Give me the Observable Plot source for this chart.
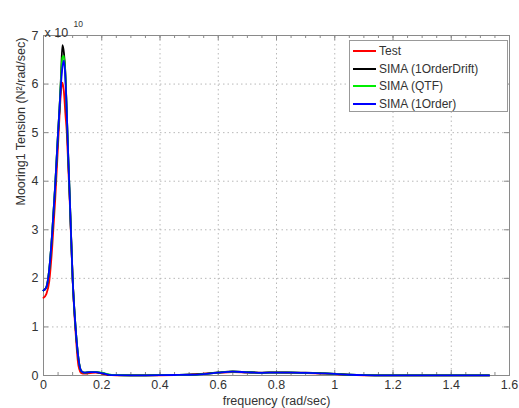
<!DOCTYPE html>
<html><head><meta charset="utf-8">
<script src="https://cdn.jsdelivr.net/npm/d3@7"></script>
<script src="https://cdn.jsdelivr.net/npm/@observablehq/plot@0.6"></script>
<style>
body{margin:0;background:#fff;font-family:"Liberation Sans",Arial,sans-serif;}
#wrap{position:relative;width:519px;height:408px;}
#legend{position:absolute;left:349px;top:40px;width:157px;height:70px;border:1px solid #999;background:#fff;font-size:12px;color:#333;}
.row{position:absolute;left:0;height:16px;display:flex;align-items:center;white-space:nowrap;}
.sw{width:23px;height:0;border-top:2px solid;margin-left:3px;margin-right:3px;}
</style></head><body><div id="wrap"></div>
<script>
// frequency (rad/sec)
const freq = [0, 0.01, 0.02, 0.03, 0.04, 0.05, 0.055, 0.06, 0.065, 0.07, 0.075, 0.08, 0.085, 0.09, 0.1, 0.11, 0.12, 0.13, 0.14, 0.16, 0.18, 0.2, 0.22, 0.25, 0.3, 0.35, 0.4, 0.45, 0.5, 0.55, 0.6, 0.65, 0.7, 0.75, 0.8, 0.85, 0.9, 0.95, 1.0, 1.05, 1.1, 1.2, 1.3, 1.4, 1.53];
// spectra, in units of 1e10 N^2/rad/sec
const test = [1.6, 1.68, 1.95, 2.65, 3.6, 4.75, 5.35, 5.85, 6.03, 5.85, 5.4, 5.0, 4.3, 3.6, 2.0, 0.9, 0.2, 0.05, 0.04, 0.05, 0.06, 0.04, 0.015, 0.005, 0.003, 0.003, 0.005, 0.01, 0.02, 0.04, 0.055, 0.07, 0.06, 0.055, 0.06, 0.055, 0.05, 0.04, 0.03, 0.012, 0.005, 0.003, 0.002, 0.002, 0.001];
const drift = [1.75, 1.82, 2.2, 2.95, 3.9, 5.0, 5.5, 6.15, 6.8, 6.65, 6.25, 5.4, 4.5, 3.7, 2.0, 1.0, 0.35, 0.09, 0.06, 0.07, 0.07, 0.05, 0.02, 0.006, 0.004, 0.004, 0.006, 0.01, 0.015, 0.035, 0.065, 0.085, 0.07, 0.06, 0.065, 0.065, 0.06, 0.05, 0.035, 0.015, 0.006, 0.003, 0.002, 0.002, 0.001];
const qtf = [1.75, 1.82, 2.2, 2.95, 3.9, 5.0, 5.5, 6.1, 6.55, 6.58, 6.2, 5.4, 4.5, 3.7, 2.0, 1.0, 0.35, 0.09, 0.06, 0.07, 0.07, 0.06, 0.03, 0.01, 0.004, 0.004, 0.006, 0.01, 0.015, 0.03, 0.06, 0.08, 0.065, 0.055, 0.06, 0.06, 0.055, 0.045, 0.035, 0.015, 0.006, 0.003, 0.002, 0.002, 0.001];
const order1 = [1.75, 1.82, 2.2, 2.95, 3.9, 5.0, 5.5, 6.0, 6.35, 6.48, 6.15, 5.4, 4.5, 3.7, 2.0, 1.0, 0.35, 0.09, 0.06, 0.07, 0.07, 0.05, 0.02, 0.006, 0.004, 0.004, 0.006, 0.01, 0.015, 0.03, 0.06, 0.08, 0.065, 0.055, 0.06, 0.06, 0.055, 0.045, 0.035, 0.015, 0.006, 0.003, 0.002, 0.002, 0.001];

const seriesNames = ["Test", "SIMA (1OrderDrift)", "SIMA (QTF)", "SIMA (1Order)"];
const seriesValues = [test, drift, qtf, order1];
const seriesColors = ["#ff0000", "#000000", "#00ee00", "#0000ff"];

const xTicks = [0, 0.2, 0.4, 0.6, 0.8, 1, 1.2, 1.4, 1.6];
const xMinor = d3.range(0, 1.6001, 0.05);
const yTicks = [0, 1, 2, 3, 4, 5, 6, 7];
const xLabel = "frequency (rad/sec)";
const yLabel = "Mooring1 Tension (N²/rad/sec)";

const rows = [];
seriesNames.forEach((s, i) => freq.forEach((f, j) => rows.push({freq: f, value: seriesValues[i][j], series: s})));

const W = 519, H = 408, mt = 35, mb = 33, ml = 43, mr = 10;
const innerH = H - mt - mb, innerW = W - ml - mr;
const axisColor = "#8a8a8a", textColor = "#333";

const chart = Plot.plot({
  width: W, height: H,
  marginTop: mt, marginBottom: mb, marginLeft: ml, marginRight: mr,
  style: {fontFamily: "Liberation Sans, Arial, sans-serif", fontSize: "12.5px", color: textColor, background: "#fff"},
  x: {domain: [0, 1.6]},
  y: {domain: [0, 7]},
  color: {domain: seriesNames, range: seriesColors},
  marks: [
    Plot.gridX(xTicks.slice(1, -1), {stroke: "#b8b8b8", strokeOpacity: 1, strokeDasharray: "1.5,3"}),
    Plot.gridY(yTicks.slice(1, -1), {stroke: "#b8b8b8", strokeOpacity: 1, strokeDasharray: "1.5,3"}),
    Plot.frame({stroke: axisColor}),
    Plot.tickX(xTicks, {x: d => d, stroke: axisColor, insetTop: innerH - 5}),
    Plot.tickX(xTicks, {x: d => d, stroke: axisColor, insetBottom: innerH - 5}),
    Plot.tickX(xMinor, {x: d => d, stroke: axisColor, insetTop: innerH - 3}),
    Plot.tickX(xMinor, {x: d => d, stroke: axisColor, insetBottom: innerH - 3}),
    Plot.tickY(yTicks, {y: d => d, stroke: axisColor, insetRight: innerW - 5}),
    Plot.tickY(yTicks, {y: d => d, stroke: axisColor, insetLeft: innerW - 5}),
    Plot.axisX(xTicks, {tickSize: 0, tickPadding: 5, tickFormat: d3.format("~g"), label: null, fontSize: 12.5}),
    Plot.axisY(yTicks, {tickSize: 0, tickPadding: 5, tickFormat: d3.format("~g"), label: null, fontSize: 12.5}),
    Plot.text([xLabel], {frameAnchor: "bottom", text: d => d, dy: 25, lineAnchor: "middle", fontSize: 12.5, fill: textColor}),
    Plot.text([yLabel], {frameAnchor: "left", text: d => d, dx: -23, rotate: -90, lineAnchor: "middle", fontSize: 12.5, fill: textColor}),
    Plot.lineY(rows, {x: "freq", y: "value", z: "series", stroke: "series", strokeWidth: 1.8, curve: "monotone-x"}),
    Plot.text(["x 10"], {frameAnchor: "top-left", text: d => d, textAnchor: "start", dx: 1, dy: -7, fontSize: 12.5, fill: textColor}),
    Plot.text(["10"], {frameAnchor: "top-left", text: d => d, textAnchor: "start", dx: 30, dy: -15, fontSize: 8.5, fill: textColor})
  ]
});
const wrap = document.getElementById("wrap");
wrap.appendChild(chart);

const legend = document.createElement("div");
legend.id = "legend";
seriesNames.forEach((s, i) => {
  const r = document.createElement("div");
  r.className = "row";
  r.style.top = (2 + i * 17.6) + "px";
  r.innerHTML = `<span class="sw" style="border-color:${seriesColors[i]}"></span><span>${s}</span>`;
  legend.appendChild(r);
});
wrap.appendChild(legend);
</script></body></html>
